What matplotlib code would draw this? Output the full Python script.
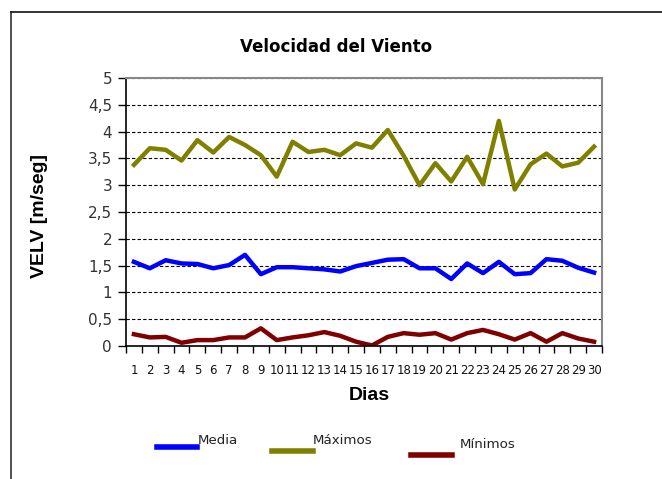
import matplotlib
matplotlib.use("Agg")
import matplotlib.pyplot as plt
from matplotlib.lines import Line2D
import numpy as np

plt.rcParams['font.family'] = ['Liberation Sans', 'DejaVu Sans']

dias = list(range(1, 31))
media = [1.57, 1.45, 1.60, 1.54, 1.53, 1.45, 1.51, 1.70, 1.34, 1.47,
         1.47, 1.45, 1.43, 1.39, 1.49, 1.55, 1.61, 1.62, 1.45, 1.45,
         1.25, 1.54, 1.36, 1.57, 1.34, 1.36, 1.62, 1.59, 1.46, 1.37]
maximos = [3.38, 3.69, 3.66, 3.46, 3.84, 3.61, 3.90, 3.75, 3.56, 3.16,
           3.81, 3.62, 3.66, 3.56, 3.78, 3.70, 4.03, 3.55, 3.00, 3.41,
           3.07, 3.53, 3.02, 4.20, 2.92, 3.39, 3.59, 3.35, 3.42, 3.72]
minimos = [0.22, 0.16, 0.17, 0.06, 0.11, 0.11, 0.16, 0.16, 0.33, 0.11,
           0.16, 0.20, 0.26, 0.19, 0.08, 0.01, 0.17, 0.24, 0.21, 0.24,
           0.12, 0.24, 0.30, 0.22, 0.12, 0.24, 0.08, 0.24, 0.14, 0.08]
yticks = [0, 0.5, 1, 1.5, 2, 2.5, 3, 3.5, 4, 4.5, 5]
ytick_labels = ['0', '0,5', '1', '1,5', '2', '2,5', '3', '3,5', '4', '4,5', '5']

W, H = 662, 479
fig = plt.figure(figsize=(W / 100, H / 100), dpi=100)

# outer frame (left & top only visible)
fig.add_artist(Line2D([11 / W, 11 / W], [0, 1 - 12 / H], color='#333333', lw=1.2, transform=fig.transFigure))
fig.add_artist(Line2D([11 / W, 1], [1 - 12 / H, 1 - 12 / H], color='#111111', lw=1.2, transform=fig.transFigure))

left, right, top, bottom = 126, 602, 78, 346
ax = fig.add_axes([left / W, 1 - bottom / H, (right - left) / W, (bottom - top) / H])

c_media = '#0000FF'
c_max = '#808000'
c_min = '#800000'
ax.plot(dias, media, color=c_media, lw=3.2, solid_joinstyle='round')
ax.plot(dias, maximos, color=c_max, lw=3.2, solid_joinstyle='round')
ax.plot(dias, minimos, color=c_min, lw=3.2, solid_joinstyle='round')

ax.set_xlim(0.5, 30.5)
ax.set_ylim(0, 5)
ax.set_yticks(yticks)
ax.set_yticklabels(ytick_labels, fontsize=11, color='#333333', family='DejaVu Sans')
ax.yaxis.grid(True, linestyle=(0, (3, 2)), color='black', lw=0.8)
ax.set_axisbelow(True)

ax.set_xticks(np.arange(0.5, 31, 1))
ax.set_xticklabels([])
ax.set_xticks(dias, minor=True)
ax.set_xticklabels([str(d) for d in dias], minor=True, fontsize=8.5, color='#111111', family='DejaVu Sans')
ax.tick_params(axis='x', which='major', direction='out', length=5, width=1)
ax.tick_params(axis='x', which='minor', length=0, pad=13)
ax.tick_params(axis='y', direction='out', length=6, width=1, pad=4)

for s in ['top', 'right']:
    ax.spines[s].set_color('#888888')
    ax.spines[s].set_linewidth(1.5)
for s in ['left', 'bottom']:
    ax.spines[s].set_color('black')
    ax.spines[s].set_linewidth(1.2)

fig.text(336 / W, 1 - 47 / H, 'Velocidad del Viento', ha='center', va='center', fontsize=12,
         fontweight='bold', family='DejaVu Sans')
fig.text(40 / W, 1 - 216 / H, 'VELV [m/seg]', ha='center', va='center', rotation=90, fontsize=14, fontweight='bold')
fig.text(369 / W, 1 - 395 / H, 'Dias', ha='center', va='center', fontsize=14, fontweight='bold')

# legend (manual, staggered as in reference)
legend_items = [
    (157, 197, 447, 198, 440, 'Media', c_media),
    (272, 313, 451, 313, 440, 'Máximos', c_max),
    (411, 452, 455, 460, 444, 'Mínimos', c_min),
]
for x0, x1, ly, tx, ty, lab, col in legend_items:
    fig.add_artist(Line2D([x0 / W, x1 / W], [1 - ly / H, 1 - ly / H], color=col, lw=4,
                          transform=fig.transFigure))
    fig.text(tx / W, 1 - ty / H, lab, ha='left', va='center', fontsize=9.6, color='#222222',
             family='DejaVu Sans')

fig.savefig('out.png', dpi=100)
